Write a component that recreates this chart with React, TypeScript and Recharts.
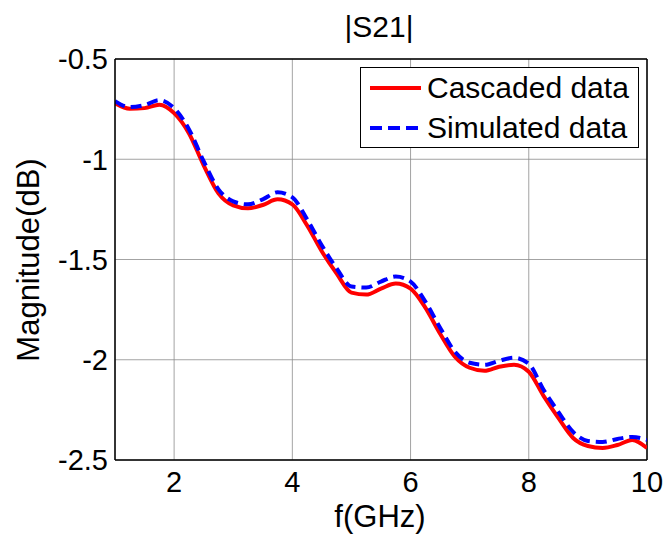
import React from "react";
import {
  LineChart,
  Line,
  XAxis,
  YAxis,
  CartesianGrid,
  ReferenceLine,
  Legend,
  Customized,
} from "recharts";

const freqs = [
  1, 1.25, 1.5, 1.75, 2, 2.25, 2.5, 2.75, 3, 3.25, 3.5, 3.75, 4, 4.25, 4.5, 4.75, 5, 5.25, 5.5,
  5.75, 6, 6.25, 6.5, 6.75, 7, 7.25, 7.5, 7.75, 8, 8.25, 8.5, 8.75, 9, 9.25, 9.5, 9.75, 10,
];

const cascaded = [
  -0.72, -0.748, -0.745, -0.728, -0.77, -0.87, -1.03, -1.17, -1.23, -1.245, -1.228, -1.2, -1.225,
  -1.33, -1.46, -1.57, -1.665, -1.675, -1.645, -1.62, -1.645, -1.74, -1.87, -1.985, -2.04, -2.055,
  -2.035, -2.025, -2.06, -2.18, -2.29, -2.39, -2.43, -2.44, -2.425, -2.4, -2.44,
];

const simulated = [
  -0.71, -0.74, -0.73, -0.705, -0.745, -0.85, -1.01, -1.15, -1.21, -1.225, -1.2, -1.165, -1.19,
  -1.3, -1.43, -1.545, -1.635, -1.64, -1.61, -1.585, -1.61, -1.71, -1.84, -1.96, -2.015, -2.025,
  -2.005, -1.99, -2.02, -2.15, -2.26, -2.36, -2.405, -2.41, -2.395, -2.385, -2.4,
];

const xTicks = [2, 4, 6, 8, 10];
const yTicks = [-2.5, -2, -1.5, -1, -0.5];

const data = freqs.map((f, i) => ({ f, cascaded: cascaded[i], simulated: simulated[i] }));

const FONT = "'Liberation Sans', Arial, sans-serif";

const LegendBox = () => (
  <div
    style={{
      width: 279,
      height: 81,
      boxSizing: "border-box",
      border: "1.5px solid #000",
      background: "#fff",
      fontFamily: FONT,
      fontSize: 30,
      color: "#000",
    }}
  >
    {[
      { name: "Cascaded data", color: "#ff0000", dash: undefined },
      { name: "Simulated data", color: "#0000ff", dash: "12 6" },
    ].map((item) => (
      <div key={item.name} style={{ display: "flex", alignItems: "center", height: 40 }}>
        <svg width={66} height={40} style={{ flexShrink: 0 }}>
          <line x1={9} x2={60} y1={20} y2={20} stroke={item.color} strokeWidth={4} strokeDasharray={item.dash} />
        </svg>
        <span style={{ lineHeight: "40px", whiteSpace: "nowrap" }}>{item.name}</span>
      </div>
    ))}
  </div>
);

const Texts = () => (
  <g fontFamily={FONT} fill="#000">
    <text x={379} y={37} fontSize={30} textAnchor="middle">|S21|</text>
    <text x={380} y={527} fontSize={31} textAnchor="middle">f(GHz)</text>
    <text x={39} y={260} fontSize={31} textAnchor="middle" transform="rotate(-90 39 260)">
      Magnitude(dB)
    </text>
  </g>
);

export default function App() {
  return (
    <div
      style={{
        position: "fixed",
        top: 0,
        left: 0,
        background: "#fff",
        width: 665,
        height: 534,
        overflow: "hidden",
      }}
    >
      <LineChart
        width={665}
        height={534}
        data={data}
        margin={{ top: 59, right: 18, left: 0, bottom: 0 }}
      >
        <CartesianGrid stroke="#8c8c8c" strokeWidth={0.8} />
        <XAxis
          dataKey="f"
          type="number"
          domain={[1, 10]}
          ticks={xTicks}
          height={74}
          tickSize={0}
          tickMargin={11}
          axisLine={{ stroke: "#000", strokeWidth: 1.5 }}
          tickLine={false}
          tick={{ fill: "#000", fontSize: 29, fontFamily: FONT }}
          allowDataOverflow
        />
        <YAxis
          type="number"
          domain={[-2.5, -0.5]}
          ticks={yTicks}
          width={115}
          tickSize={0}
          tickMargin={7}
          axisLine={{ stroke: "#000", strokeWidth: 1.5 }}
          tickLine={false}
          tick={{ fill: "#000", fontSize: 29, fontFamily: FONT }}
          allowDataOverflow
        />
        <ReferenceLine x={10} stroke="#000" strokeWidth={1.5} />
        <ReferenceLine y={-0.5} stroke="#000" strokeWidth={1.5} />
        <Line
          type="monotone"
          dataKey="cascaded"
          stroke="#ff0000"
          strokeWidth={4}
          dot={false}
          isAnimationActive={false}
        />
        <Line
          type="monotone"
          dataKey="simulated"
          stroke="#0000ff"
          strokeWidth={4}
          strokeDasharray="11 6"
          dot={false}
          isAnimationActive={false}
        />
        <Legend
          layout="horizontal"
          verticalAlign="middle"
          align="center"
          wrapperStyle={{ left: 360, top: 67, width: 279, height: 81 }}
          content={() => <LegendBox />}
        />
        <Customized component={Texts} />
      </LineChart>
    </div>
  );
}
